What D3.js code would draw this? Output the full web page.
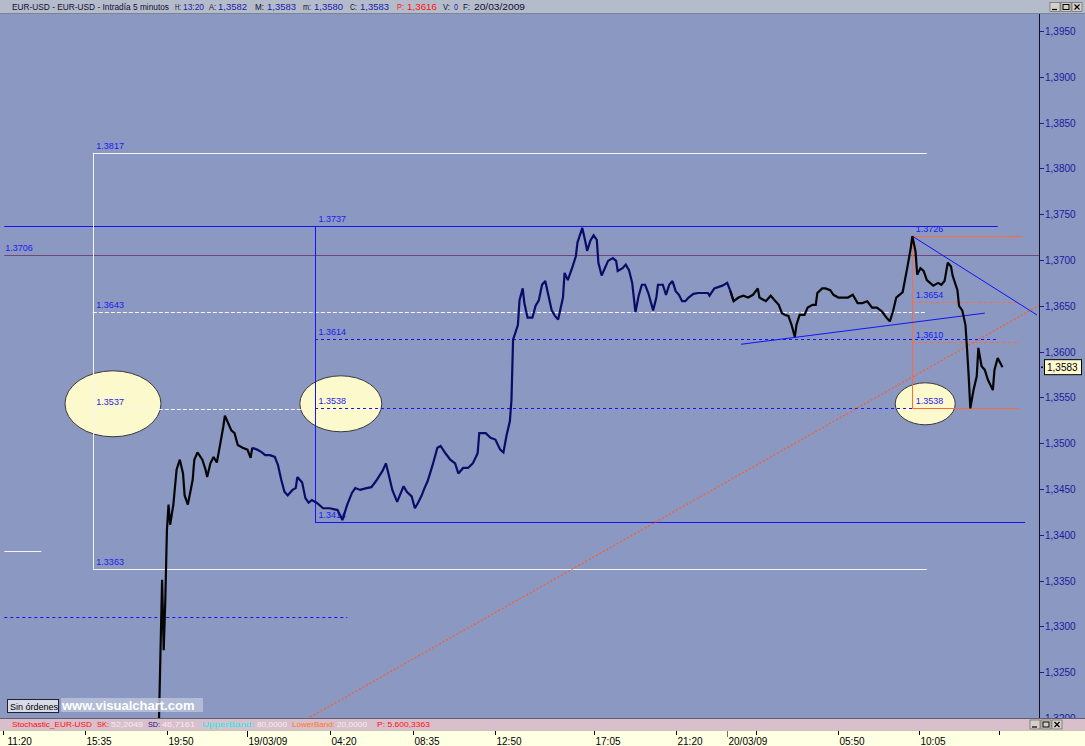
<!DOCTYPE html>
<html><head><meta charset="utf-8">
<script src="https://cdn.jsdelivr.net/npm/d3@7"></script>
<style>
body{margin:0;background:#fff;overflow:hidden}
svg{display:block}
text{font-family:"Liberation Sans",Arial,sans-serif}
</style>
</head><body>
<svg id="c" width="1085" height="746"></svg>
<script>
// ---------- DATA ----------
// [bar index (5-minute bars), price]
const priceSeries = [[97,1.3192],[99,1.3351],[100,1.3274],[101,1.3329],[102,1.3405],[103,1.3433],[104,1.3411],[106,1.3433],[108,1.3471],[110,1.3482],[112,1.3467],[113,1.3443],[115,1.3433],[118,1.3460],[119,1.3482],[121,1.3490],[124,1.3482],[126,1.3471],[127,1.3463],[129,1.3478],[131,1.3485],[133,1.3479],[135,1.3498],[137,1.3518],[138,1.3530],[140,1.3522],[142,1.3514],[144,1.3511],[146,1.3498],[149,1.3495],[152,1.3493],[154,1.3484],[155,1.3495],[158,1.3493],[161,1.3490],[163,1.3487],[166,1.3487],[169,1.3485],[171,1.3476],[173,1.3460],[175,1.3447],[177,1.3443],[180,1.3449],[182,1.3451],[183,1.3463],[186,1.3457],[188,1.3440],[190,1.3435],[192,1.3438],[195,1.3435],[199,1.3429],[203,1.3429],[208,1.3427],[211,1.3416],[214,1.3433],[217,1.3446],[219,1.3451],[222,1.3449],[226,1.3451],[229,1.3452],[232,1.3459],[236,1.3470],[238,1.3478],[240,1.3464],[242,1.3449],[245,1.3436],[249,1.3453],[251,1.3447],[254,1.3442],[256,1.3429],[258,1.3435],[260,1.3442],[262,1.3451],[264,1.3459],[267,1.3476],[270,1.3495],[272,1.3497],[275,1.3489],[278,1.3482],[281,1.3478],[283,1.3467],[286,1.3473],[289,1.3473],[292,1.3478],[295,1.3489],[296,1.3511],[300,1.3511],[303,1.3506],[306,1.3504],[309,1.3493],[311,1.3490],[313,1.3509],[315,1.3524],[316,1.3547],[317,1.3613],[320,1.3629],[321,1.3656],[323,1.3669],[324,1.3653],[326,1.3637],[329,1.3637],[331,1.3650],[333,1.3656],[335,1.3673],[337,1.3677],[339,1.3661],[341,1.3645],[343,1.3639],[345,1.3635],[348,1.3659],[349,1.3686],[351,1.3678],[354,1.3693],[356,1.3704],[357,1.3719],[360,1.3735],[362,1.3719],[363,1.3710],[365,1.3721],[367,1.3727],[369,1.3722],[370,1.3697],[372,1.3683],[374,1.3691],[376,1.3699],[379,1.3702],[381,1.3699],[382,1.3688],[385,1.3691],[387,1.3695],[389,1.3689],[391,1.3675],[393,1.3643],[395,1.3661],[397,1.3673],[399,1.3673],[401,1.3664],[404,1.3645],[406,1.3659],[407,1.3673],[410,1.3673],[412,1.3662],[414,1.3673],[416,1.3677],[418,1.3666],[420,1.3662],[422,1.3655],[424,1.3655],[426,1.3659],[429,1.3663],[432,1.3664],[435,1.3664],[438,1.3664],[439,1.3661],[442,1.3669],[447,1.3672],[450,1.3675],[452,1.3666],[454,1.3655],[457,1.3659],[460,1.3661],[463,1.3659],[466,1.3662],[469,1.3669],[470,1.3659],[474,1.3655],[477,1.3661],[480,1.3655],[482,1.3651],[484,1.3642],[486,1.3640],[488,1.3639],[490,1.3629],[492,1.3616],[493,1.3629],[495,1.3640],[498,1.3640],[500,1.3648],[503,1.3651],[505,1.3651],[506,1.3664],[509,1.3669],[511,1.3669],[514,1.3667],[516,1.3662],[519,1.3659],[522,1.3659],[525,1.3659],[528,1.3662],[531,1.3653],[534,1.3653],[537,1.3655],[540,1.3648],[543,1.3648],[546,1.3644],[549,1.3637],[551,1.3633],[553,1.3644],[555,1.3659],[557,1.3662],[559,1.3665],[562,1.3693],[564,1.3713],[565,1.3726],[567,1.3709],[568,1.3684],[570,1.3691],[572,1.3688],[574,1.3678],[576,1.3675],[578,1.3672],[581,1.3675],[583,1.3673],[585,1.3677],[587,1.3697],[589,1.3693],[590,1.3683],[593,1.3667],[594,1.3650],[596,1.3645],[598,1.3629],[599,1.3602],[600,1.3573],[601,1.3538],[603,1.3558],[605,1.3573],[606,1.3604],[608,1.3584],[610,1.3580],[612,1.3569],[615,1.3558],[616,1.3580],[618,1.3593],[621,1.3583]];
const navyFrom = 155, navyTo = 453;   // bar range drawn in navy

const yTickValues = [1.3200,1.3250,1.3300,1.3350,1.3400,1.3450,1.3500,1.3550,1.3600,1.3650,1.3700,1.3750,1.3800,1.3850,1.3900,1.3950];
const xTickBars   = [0,51,102,152,203,255,306,367,418,450,468,519,569,619];
const xTickLabels = ["11:20","15:35","19:50","19/03/09","04:20","08:35","12:50","17:05","21:20","20/03/09","","05:50","10:05",""];
const xTickLong   = [false,false,false,true,false,false,false,false,false,true,false,false,false,false];

// horizontal drawn levels: price, start bar, end bar, kind, label
const levelPrice = [1.3817,1.3363,1.3643,1.3537,1.3737,1.3706,1.3614,1.3538,1.3414,1.3310,1.3382,1.3726,1.3654,1.3610,1.3538];
const levelFrom  = [56,56,56,56,1,1,194,194,194,1,1,565,565,565,565];
const levelTo    = [574,574,574,194,618,644,618,565,635,214,24,633,631,631,631];
const levelKind  = ["white","white","whiteDash","whiteDash","blue","purple","blueDash","blueDash","blue","blueDash","white","orange","orangeDash","orangeDash","orange"];
const levelLabel = ["1.3817","1.3363","1.3643","1.3537","","1.3706","1.3614","1.3538","1.3414","","","1.3726","1.3654","1.3610","1.3538"];
const levelLabelBar = [56,56,56,56,194,1,194,194,194,0,0,565,565,565,565];
const level1737Label = "1.3737";

// vertical drawn lines: bar, price from, price to, kind
const vBar  = [56,194,565];
const vFrom = [1.3363,1.3414,1.3538];
const vTo   = [1.3817,1.3737,1.3726];
const vKind = ["white","blue","orange"];

// trend lines
const tBar0 = [458.6,565,191];
const tP0   = [1.3608,1.3726,1.3201];
const tBar1 = [610,642.4,644.3];
const tP1   = [1.3642,1.3640,1.3651];
const tKind = ["blue","blue","orangeDot"];

// ellipses (centre bar, centre price)
const ellBar   = [68.5,210,573];
const ellPrice = [1.3543,1.3543,1.3543];

// header texts
const titleTexts = ["EUR-USD - EUR-USD - Intradía 5 minutos","H:","13:20","A:","1,3582","M:","1,3583","m:","1,3580","C:","1,3583","P:","1,3616","V:","0","F:","20/03/2009"];
const titleRoles = ["l","l","v","l","v","l","v","l","v","l","v","r","r","l","v","l","l"];
const stochTexts = ["Stochastic_EUR-USD","SK:","52,2049","SD:","46,7161","UpperBand:","80,0000","LowerBand:","20,0000","P: 5.600,3363"];
const stochColors = ["#ff1010","#ff1010","#f4ecf0","#101080","#f4ecf0","#10f0f0","#f4ecf0","#ff7a20","#f4ecf0","#ff1010"];
const lastPrice = 1.3583;

// ---------- LAYOUT ----------
const titleX = [12,175,183,209,218,255,267,303,314,350,360,397,407,443,454,463,474];
const titleW = [157,6,21,7,29,9,29,8,29,7,29,7,30,7,4,7,51];
const stochX = [12,97,111,148,162,202,257,292,337,377];
const stochW = [80,12,32,12,33,52,30,43,30,53];

// ---------- DRAW ----------
const svg = d3.select("#c");
const plotL = 0, plotR = 1039, plotT = 14, plotB = 718;
const x = d3.scaleLinear().domain([0, 644]).range([2.7, 2.7 + 644 * 1.61]);
const y = d3.scaleLinear().domain([1.3200, 1.3950]).range([718, 31]);

const style = {
  white:{c:"#f6f6f6",d:null}, whiteDash:{c:"#f6f6f6",d:"4,2"},
  blue:{c:"#1414f4",d:null}, blueDash:{c:"#1414f4",d:"3,3"},
  purple:{c:"#6e4878",d:null},
  orange:{c:"#ff6a3c",d:null}, orangeDash:{c:"#ff6a3c",d:"3,3"}, orangeDot:{c:"#ff5a28",d:"2,2"}
};
const labelColor = "#1c1cee";

// backgrounds
svg.append("rect").attr("x",0).attr("y",0).attr("width",1085).attr("height",746).attr("fill","#8a98c2");
svg.append("rect").attr("x",0).attr("y",0).attr("width",1085).attr("height",14).attr("fill","#b4bccc");
svg.append("line").attr("x1",0).attr("x2",1085).attr("y1",13.5).attr("y2",13.5).attr("stroke","#7c8498");

// title
const tt = svg.append("g");
titleTexts.forEach((t,i) => {
  tt.append("text").attr("x", titleX[i]).attr("y", 10).attr("font-size", i===0 ? 8.3 : 9)
    .attr("textLength", titleW[i]).attr("lengthAdjust","spacingAndGlyphs")
    .attr("fill", titleRoles[i]==="l" ? "#101030" : titleRoles[i]==="v" ? "#1a20a8" : "#ff1010").text(t);
});
// window buttons
function winButtons(g, x0, y0) {
  ["min","max","close"].forEach((k,i) => {
    const bx = x0 + i*11;
    g.append("rect").attr("x",bx).attr("y",y0).attr("width",10).attr("height",9).attr("fill","#d4d0c8").attr("stroke","#555").attr("stroke-width",0.6);
    if (k==="min") g.append("line").attr("x1",bx+2).attr("x2",bx+7).attr("y1",y0+7).attr("y2",y0+7).attr("stroke","#000").attr("stroke-width",1.2);
    if (k==="max") g.append("rect").attr("x",bx+2).attr("y",y0+2).attr("width",6).attr("height",5).attr("fill","none").attr("stroke","#000").attr("stroke-width",1);
    if (k==="close") { g.append("path").attr("d",`M${bx+2.5},${y0+2}L${bx+7.5},${y0+7}M${bx+7.5},${y0+2}L${bx+2.5},${y0+7}`).attr("stroke","#000").attr("stroke-width",1.2); }
  });
}
winButtons(svg, 1050, 2.5);

// clip for plot
svg.append("defs").append("clipPath").attr("id","pc").append("rect")
  .attr("x",plotL).attr("y",plotT).attr("width",plotR-plotL).attr("height",plotB-plotT);
const plot = svg.append("g").attr("clip-path","url(#pc)");

// ellipses
ellBar.forEach((b,i) => {
  const rx = [48,41,30][i], ry = [33,28,21][i];
  plot.append("ellipse").attr("cx", x(b)).attr("cy", y(ellPrice[i])).attr("rx", rx).attr("ry", ry)
    .attr("fill","#fcf9cc").attr("stroke","#3a3a3a").attr("stroke-width",1);
});

// horizontal levels
levelPrice.forEach((p,i) => {
  const s = style[levelKind[i]];
  plot.append("line").attr("x1", x(levelFrom[i])).attr("x2", x(levelTo[i]))
    .attr("y1", Math.round(y(p))+0.5).attr("y2", Math.round(y(p))+0.5)
    .attr("stroke", s.c).attr("stroke-width", 1).attr("stroke-dasharray", s.d);
});
// vertical lines
vBar.forEach((b,i) => {
  const s = style[vKind[i]];
  plot.append("line").attr("x1", Math.round(x(b))+0.5).attr("x2", Math.round(x(b))+0.5)
    .attr("y1", y(vFrom[i])).attr("y2", y(vTo[i])).attr("stroke", s.c).attr("stroke-width", 1);
});
// trend lines
tBar0.forEach((b,i) => {
  const s = style[tKind[i]];
  plot.append("line").attr("x1", x(b)).attr("y1", y(tP0[i])).attr("x2", x(tBar1[i])).attr("y2", y(tP1[i]))
    .attr("stroke", s.c).attr("stroke-width", i===2 ? 1.2 : 1).attr("stroke-dasharray", s.d);
});
// labels
levelPrice.forEach((p,i) => {
  if (!levelLabel[i]) return;
  plot.append("text").attr("x", x(levelLabelBar[i]) + (levelLabelBar[i] < 2 ? 1 : 3.5)).attr("y", y(p) - 4)
    .attr("font-size", 9).attr("fill", labelColor).text(levelLabel[i]);
});
plot.append("text").attr("x", x(194)+3.5).attr("y", y(1.3737)-4).attr("font-size",9).attr("fill",labelColor).text(level1737Label);

// price series
const line = d3.line().x(d => x(d[0])).y(d => y(d[1]));
const seg1 = priceSeries.filter(d => d[0] <= navyFrom);
const seg2 = priceSeries.filter(d => d[0] >= navyFrom && d[0] <= navyTo + 1);
const seg3 = priceSeries.filter(d => d[0] >= navyTo - 1);
[[seg1,"#050505"],[seg2,"#0c0c68"],[seg3,"#050505"]].forEach(s => {
  plot.append("path").attr("d", line(s[0])).attr("fill","none").attr("stroke",s[1]).attr("stroke-width",2.2).attr("stroke-linejoin","miter").attr("stroke-miterlimit",2);
});

// sin ordenes button + watermark
svg.append("rect").attr("x",7.5).attr("y",699.5).attr("width",51).attr("height",13).attr("fill","#d8dce8").attr("stroke","#202030");
svg.append("text").attr("x",10).attr("y",709.5).attr("font-size",9).attr("fill","#000").text("Sin órdenes");
svg.append("rect").attr("x",61).attr("y",698).attr("width",142).attr("height",14).attr("fill","#bcc6dc").attr("opacity",0.8);
svg.append("text").attr("x",62).attr("y",710).attr("font-size",13).attr("font-weight","bold").attr("fill","#ffffff").text("www.visualchart.com");

// right axis
const ax = svg.append("g");
ax.append("line").attr("x1",plotR+0.5).attr("x2",plotR+0.5).attr("y1",plotT).attr("y2",plotB).attr("stroke","#101020").attr("stroke-width",1);
yTickValues.forEach(v => {
  const yy = Math.round(y(v)) + 0.5;
  ax.append("line").attr("x1",plotR+1).attr("x2",plotR+5).attr("y1",yy).attr("y2",yy).attr("stroke","#1a1a9a");
  ax.append("text").attr("x",plotR+6).attr("y",yy+3.5).attr("font-size",10).attr("fill","#1a1a9a")
    .text(d3.format(".4f")(v).replace(".",","));
});
// last price box
const ly = y(lastPrice);
ax.append("circle").attr("cx",plotR+3).attr("cy",ly).attr("r",1).attr("fill","#000");
ax.append("rect").attr("x",plotR+5.5).attr("y",ly-7.5).attr("width",37).attr("height",15).attr("fill","#fffcd2").attr("stroke","#000");
ax.append("text").attr("x",plotR+8).attr("y",ly+4).attr("font-size",10).attr("fill","#000").text(d3.format(".4f")(lastPrice).replace(".",","));

// stochastic strip
svg.append("rect").attr("x",0).attr("y",plotB).attr("width",1085).attr("height",12).attr("fill","#d8bfcb");
svg.append("line").attr("x1",0).attr("x2",1085).attr("y1",plotB+0.5).attr("y2",plotB+0.5).attr("stroke","#606070");
stochTexts.forEach((t,i) => {
  svg.append("text").attr("x",stochX[i]).attr("y",727).attr("font-size", 8)
    .attr("textLength", stochW[i]).attr("lengthAdjust","spacingAndGlyphs").attr("fill",stochColors[i]).text(t);
});
winButtons(svg, 1030, 720);

// x axis strip
svg.append("rect").attr("x",0).attr("y",730).attr("width",1085).attr("height",16).attr("fill","#ffffe4");
svg.append("line").attr("x1",0).attr("x2",1085).attr("y1",730.5).attr("y2",730.5).attr("stroke","#c8c8b0");
xTickBars.forEach((b,i) => {
  const xx = Math.round(x(b)) + 0.5;
  svg.append("line").attr("x1",xx).attr("x2",xx).attr("y1",731).attr("y2", xTickLong[i] ? 737 : 735)
    .attr("stroke", i===9 ? "#707070" : "#000");
  if (xTickLabels[i]) svg.append("text").attr("x", xx + (i===0 ? 4 : 1)).attr("y",745).attr("font-size",10).attr("fill","#000").text(xTickLabels[i]);
});
</script>
</body></html>
